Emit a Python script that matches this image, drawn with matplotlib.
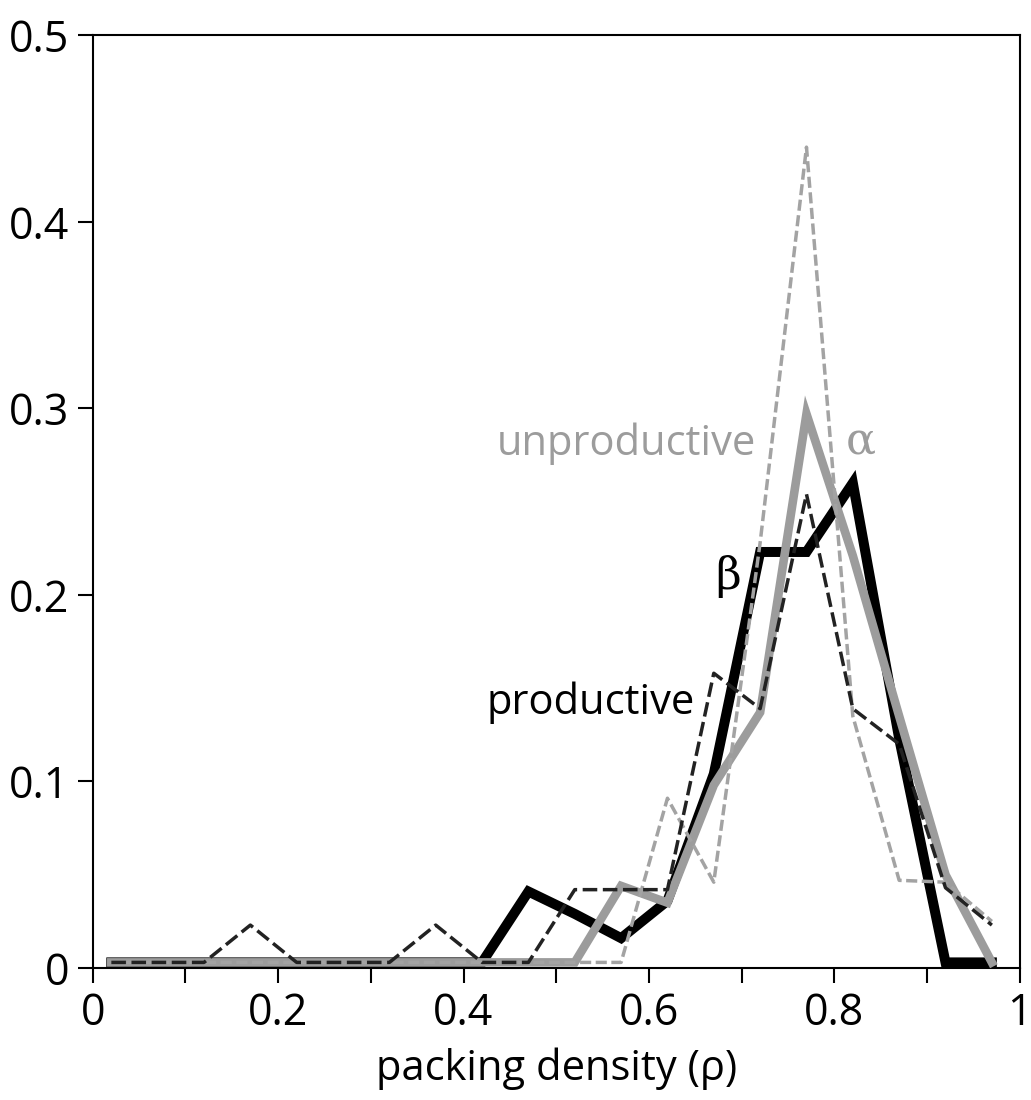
import numpy as np
import matplotlib
matplotlib.use("Agg")
import matplotlib.pyplot as plt
from matplotlib import font_manager

# bins of packing density
rho = [0.02, 0.07, 0.12, 0.17, 0.22, 0.27, 0.32, 0.37, 0.42, 0.47,
       0.52, 0.57, 0.62, 0.67, 0.72, 0.77, 0.82, 0.87, 0.92, 0.97]

# fractions
alpha = [0, 0, 0, 0, 0, 0, 0, 0, 0, 0,
         0, 0.041, 0.032, 0.095, 0.134, 0.294, 0.218, 0.132, 0.047, 0]
beta = [0, 0, 0, 0, 0, 0, 0, 0, 0, 0.038,
        0.026, 0.013, 0.033, 0.101, 0.220, 0.220, 0.257, 0.120, 0, 0]
productive = [0, 0, 0, 0.020, 0, 0, 0, 0.020, 0, 0,
              0.039, 0.039, 0.039, 0.155, 0.136, 0.251, 0.136, 0.117, 0.040, 0.020]
unproductive = [0, 0, 0, 0, 0, 0, 0, 0, 0, 0,
                0, 0, 0.088, 0.043, 0.225, 0.437, 0.132, 0.044, 0.043, 0.022]

xticks = [0, 0.1, 0.2, 0.3, 0.4, 0.5, 0.6, 0.7, 0.8, 0.9, 1.0]
xticklabels = ["0", "", "0.2", "", "0.4", "", "0.6", "", "0.8", "", "1"]
yticks = [0, 0.1, 0.2, 0.3, 0.4, 0.5]
yticklabels = ["0", "0.1", "0.2", "0.3", "0.4", "0.5"]

plt.rcParams['font.family'] = ['Open Sans', 'DejaVu Sans']
greek = font_manager.FontProperties(family="DejaVu Serif", size=32)

fig = plt.figure(figsize=(10.31, 11), dpi=100)
ax = fig.add_axes([0.090, 0.12, 0.899, 0.848])

# lines sit a hair above the axis in the original
base = 0.003
x = np.array(rho)

ax.plot(x, np.array(beta) + base, color="black", lw=7.2, solid_joinstyle="miter", zorder=2)
ax.plot(x, np.array(alpha) + base, color="#9c9c9c", lw=6.2, solid_joinstyle="miter", zorder=3)
ax.plot(x, np.array(unproductive) + base, color="#a3a3a3", lw=2.5, dashes=(3.2, 1.3), zorder=4)
ax.plot(x, np.array(productive) + base, color="#222222", lw=2.5, dashes=(4.2, 1.6), zorder=5)

ax.text(0.716, 0.275, "unproductive", color="#9c9c9c", fontsize=30, ha="right", va="baseline")
ax.text(0.829, 0.276, "α", color="#9c9c9c", ha="center", va="baseline", fontproperties=greek)
ax.text(0.686, 0.203, "β", color="black", ha="center", va="baseline", fontproperties=greek)
ax.text(0.649, 0.136, "productive", color="black", fontsize=30, ha="right", va="baseline")

ax.set_xlim(0, 1)
ax.set_ylim(0, 0.5)
ax.set_xticks(xticks)
ax.set_xticklabels(xticklabels)
ax.set_yticks(yticks)
ax.set_yticklabels(yticklabels)
ax.tick_params(axis="both", direction="out", length=11, width=1.5, labelsize=31, pad=6)
ax.set_xlabel("packing density (ρ)", fontsize=30, labelpad=8)

for s in ax.spines.values():
    s.set_linewidth(1.5)

fig.savefig("out.png", dpi=100)
